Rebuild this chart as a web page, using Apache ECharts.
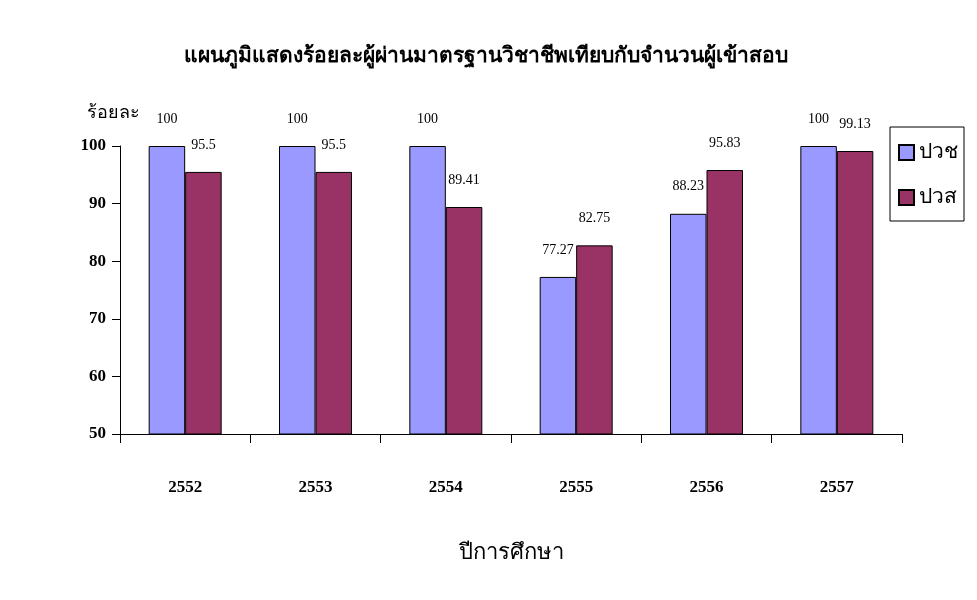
<!DOCTYPE html>
<html>
<head>
<meta charset="utf-8">
<script src="https://cdn.jsdelivr.net/npm/echarts@6/dist/echarts.min.js"></script>
<style>html,body{margin:0;padding:0;background:#fff}#c{width:977px;height:600px}</style>
</head>
<body>
<div id="c"></div>
<script>
const categories = ['2552', '2553', '2554', '2555', '2556', '2557'];
const seriesNames = ['ปวช', 'ปวส'];
const vocCert = [100, 100, 100, 77.27, 88.23, 100];
const highVocCert = [95.5, 95.5, 89.41, 82.75, 95.83, 99.13];
const yTicks = { min: 50, max: 100, interval: 10 };

const serif = "'Liberation Serif', 'Times New Roman', serif";
const chart = echarts.init(document.getElementById('c'));
const labelCfg = { show: true, position: 'top', distance: 20, color: '#000', fontFamily: serif, fontSize: 14 };
chart.setOption({
  backgroundColor: '#fff',
  animation: false,
  title: {
    text: 'แผนภูมิแสดงร้อยละผู้ผ่านมาตรฐานวิชาชีพเทียบกับจำนวนผู้เข้าสอบ',
    left: 481, top: 41, textAlign: 'center',
    textStyle: { fontFamily: serif, fontSize: 21, fontWeight: 'bold', color: '#000' }
  },
  legend: {
    orient: 'vertical', left: 890, top: 127,
    itemWidth: 15, itemHeight: 15, itemGap: 24, icon: 'rect',
    padding: [15, 6, 13, 8],
    borderColor: '#000', borderWidth: 1,
    textStyle: { fontFamily: serif, fontSize: 21, color: '#000' },
    data: seriesNames
  },
  grid: { left: 120, right: 75, top: 146, bottom: 166, containLabel: false },
  xAxis: {
    type: 'category', data: categories,
    name: 'ปีการศึกษา', nameLocation: 'middle', nameGap: 108,
    nameTextStyle: { fontFamily: serif, fontSize: 22, color: '#000' },
    axisLine: { lineStyle: { color: '#000', width: 1 } },
    axisTick: { show: true, length: 9, lineStyle: { color: '#000' } },
    axisLabel: { margin: 45, fontFamily: serif, fontSize: 17, fontWeight: 'bold', color: '#000' }
  },
  yAxis: {
    type: 'value', min: yTicks.min, max: yTicks.max, interval: yTicks.interval,
    name: 'ร้อยละ', nameLocation: 'end', nameGap: 24,
    nameTextStyle: { fontFamily: serif, fontSize: 18, color: '#000', padding: [0, 14, 0, 0] },
    axisLine: { show: true, lineStyle: { color: '#000', width: 1 } },
    axisTick: { show: true, length: 8, lineStyle: { color: '#000' } },
    splitLine: { show: false },
    axisLabel: { margin: 14, fontFamily: serif, fontSize: 17, fontWeight: 'bold', color: '#000' }
  },
  series: [
    { name: seriesNames[0], type: 'bar', data: vocCert, barGap: '0%', barCategoryGap: '44%',
      itemStyle: { color: '#9999FF', borderColor: '#000', borderWidth: 1 }, label: labelCfg },
    { name: seriesNames[1], type: 'bar', data: highVocCert,
      itemStyle: { color: '#993366', borderColor: '#000', borderWidth: 1 }, label: labelCfg }
  ]
});
</script>
</body>
</html>
